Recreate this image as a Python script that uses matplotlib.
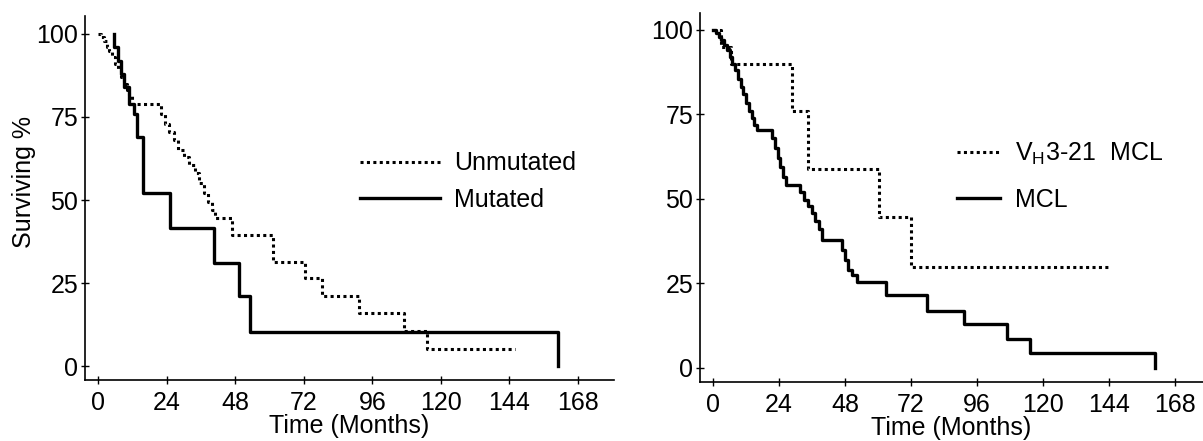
import matplotlib
matplotlib.use('Agg')
import matplotlib.pyplot as plt

plt.rcParams['font.family'] = ['Liberation Sans', 'DejaVu Sans']

# panel izquierdo: mutados vs no mutados (meses, % sobrevida)
t_unmut = [0, 1, 2, 3, 4, 5, 6, 7, 8, 9, 10, 11, 12, 22, 23.5, 25, 26.5, 28, 30, 32, 34,
           35.5, 37, 38.5, 40, 41, 47, 61.3, 72.5, 78.4, 91.4, 107, 115, 146]
s_unmut = [100, 99, 98, 96, 95, 93, 91, 89, 87, 85, 83, 81.5, 79, 76, 73, 70.5, 68, 65, 63, 60.5, 58,
           55, 52, 49.5, 47, 44.5, 39.5, 31.4, 26.4, 21, 16, 10.5, 5.1, 5.1]

t_mut = [5.5, 5.6, 7, 8, 9, 11, 12.5, 13.7, 15.8, 25.2, 40.6, 49.4, 53.2, 161]
s_mut = [100, 96, 92, 88, 84, 79, 76, 69, 52, 41.5, 31, 21, 10.3, 0]

# panel derecho: VH3-21 MCL vs MCL
t_vh = [0, 3, 6.5, 28.6, 34.5, 60.4, 72, 143.6]
s_vh = [100, 95, 90, 76, 59, 44.6, 30, 30]

t_mcl = [0, 1, 2, 3, 4, 5, 6, 7, 8, 9, 10, 11, 12, 13, 14, 15, 16, 21.5, 22.5, 23.5, 24.5, 25.5,
         26.5, 31.5, 33, 34.5, 36, 37, 38.5, 39.6, 47, 48, 49, 50.5, 52.4, 63, 77.8, 91.3, 106.9,
         115.3, 160.7]
s_mcl = [100, 99, 98, 97, 95.5, 94, 92, 90, 88, 85.5, 83, 81, 78.5, 76, 74, 72, 70.4, 68, 65, 62,
         59.5, 56.5, 54, 52, 49.7, 48, 45.8, 43.5, 41, 38, 35, 32, 29, 27.5, 25.5, 21.6, 16.9, 13,
         8.6, 4.4, 0]

xticks = [0, 24, 48, 72, 96, 120, 144, 168]
yticks = [0, 25, 50, 75, 100]

fs = 18
punteado = (0, (1, 1.1))

fig = plt.figure(figsize=(12.03, 4.41), dpi=100)
ax1 = fig.add_axes([0.0707, 0.1383, 0.4397, 0.8254])
ax2 = fig.add_axes([0.5819, 0.1338, 0.4181, 0.8367])

def estilo(ax, xlim, ylim):
    ax.set_xlim(*xlim)
    ax.set_ylim(*ylim)
    ax.set_xticks(xticks)
    ax.set_yticks(yticks)
    for lado in ['top', 'right']:
        ax.spines[lado].set_visible(False)
    for lado in ['left', 'bottom']:
        ax.spines[lado].set_linewidth(1.2)
    ax.tick_params(direction='inout', length=6, width=1, labelsize=fs)
    ax.tick_params(axis='x', pad=5)
    ax.tick_params(axis='y', pad=2)
    ax.set_xlabel('Time (Months)', fontsize=fs, labelpad=-1)

ax1.step(t_unmut, s_unmut, where='post', color='black', lw=2.2, linestyle=punteado, label='Unmutated')
ax1.step(t_mut, s_mut, where='post', color='black', lw=2.4, label='Mutated')
estilo(ax1, (-4.55, 180.6), (-4.2, 105.4))
ax1.set_ylabel('Surviving %', fontsize=fs)
ax1.yaxis.set_label_coords(-0.092, 0.545)
ax1.legend(loc='center left', bbox_to_anchor=(0.52, 0.545), frameon=False,
           prop={'size': fs}, handlelength=3.2, handletextpad=0.55,
           labelspacing=0.5, borderpad=0, borderaxespad=0)

ax2.step(t_vh, s_vh, where='post', color='black', lw=2.2, linestyle=punteado,
         label=r'V$_\mathregular{H}$3-21  MCL')
ax2.step(t_mcl, s_mcl, where='post', color='black', lw=2.4, label='MCL')
estilo(ax2, (-4.73, 178.2), (-4.14, 105.0))
ax2.legend(loc='center left', bbox_to_anchor=(0.511, 0.557), frameon=False,
           prop={'size': fs}, handlelength=1.7, handletextpad=0.6,
           labelspacing=0.85, borderpad=0, borderaxespad=0)

fig.savefig('out.png', dpi=100)
